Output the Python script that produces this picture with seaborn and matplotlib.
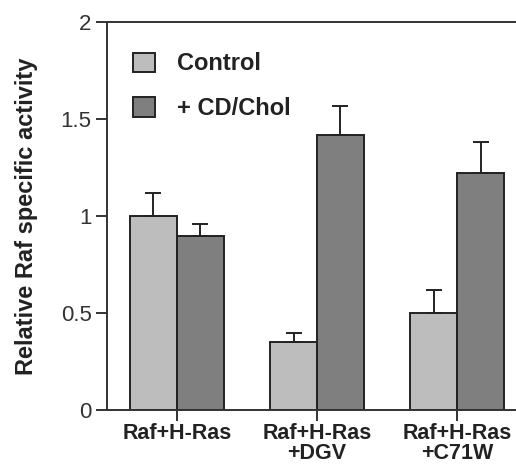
import pandas as pd
import matplotlib.pyplot as plt
import seaborn as sns
from matplotlib.patches import Patch

# Chart values
groups = ['Raf+H-Ras', 'Raf+H-Ras\n+DGV', 'Raf+H-Ras\n+C71W']
conditions = ['Control', '+ CD/Chol']
control_vals = [1.00, 0.35, 0.50]
control_err = [0.12, 0.05, 0.12]
chol_vals = [0.90, 1.42, 1.22]
chol_err = [0.06, 0.15, 0.16]

colors = ['#bdbdbd', '#7f7f7f']
edge = '#222222'

df = pd.DataFrame({
    'group': groups * 2,
    'condition': [conditions[0]] * 3 + [conditions[1]] * 3,
    'value': control_vals + chol_vals,
})
errs = {conditions[0]: control_err, conditions[1]: chol_err}

sns.set_style('ticks')
plt.rcParams['font.family'] = ['Liberation Sans', 'DejaVu Sans']

fig = plt.figure(figsize=(5.16, 4.72), dpi=100)
ax = fig.add_axes([0.207, 0.131, 0.793, 0.822])

sns.barplot(data=df, x='group', y='value', hue='condition', hue_order=conditions,
            palette=colors, width=0.67, edgecolor=edge, linewidth=1.4,
            errorbar=None, legend=False, ax=ax)

# upward-only error bars on each bar
for cont, cond in zip(ax.containers, conditions):
    xs = [p.get_x() + p.get_width() / 2 for p in cont]
    ys = [p.get_height() for p in cont]
    e = errs[cond]
    ax.errorbar(xs, ys, yerr=[[0] * len(e), e], fmt='none', ecolor=edge,
                elinewidth=1.4, capsize=6, capthick=1.4, zorder=1)

ax.set_ylim(0, 2)
ax.set_xlim(-0.5, 2.42)
ax.set_yticks([0, 0.5, 1, 1.5, 2])
ax.set_yticklabels(['0', '0.5', '1', '1.5', '2'])
ax.set_xlabel('')
ax.set_ylabel('Relative Raf specific activity', fontsize=17, fontweight='bold',
              color='#222222', labelpad=16)

for s in ['left', 'bottom', 'top']:
    ax.spines[s].set_linewidth(1.4)
    ax.spines[s].set_color('#333333')
ax.spines['right'].set_visible(False)

ax.tick_params(axis='y', direction='out', length=8, width=1.4, color='#333333',
               labelsize=16, labelcolor='#333333', pad=3)
ax.tick_params(axis='x', direction='out', length=8, width=1.4, color='#333333',
               labelsize=15.5, labelcolor='#222222', pad=1)
for t in ax.get_xticklabels():
    t.set_fontweight('bold')
    t.set_linespacing(0.95)

handles = [Patch(facecolor=c, edgecolor=edge, linewidth=1.4) for c in colors]
leg = ax.legend(handles, conditions, loc='upper left', bbox_to_anchor=(0.064, 0.922),
                frameon=False, borderpad=0, borderaxespad=0, handlelength=0.93,
                handleheight=0.89, handletextpad=0.95, labelspacing=0.92,
                prop={'size': 17, 'weight': 'bold'})
for t in leg.get_texts():
    t.set_color('#222222')

fig.savefig('out.png', dpi=100)
